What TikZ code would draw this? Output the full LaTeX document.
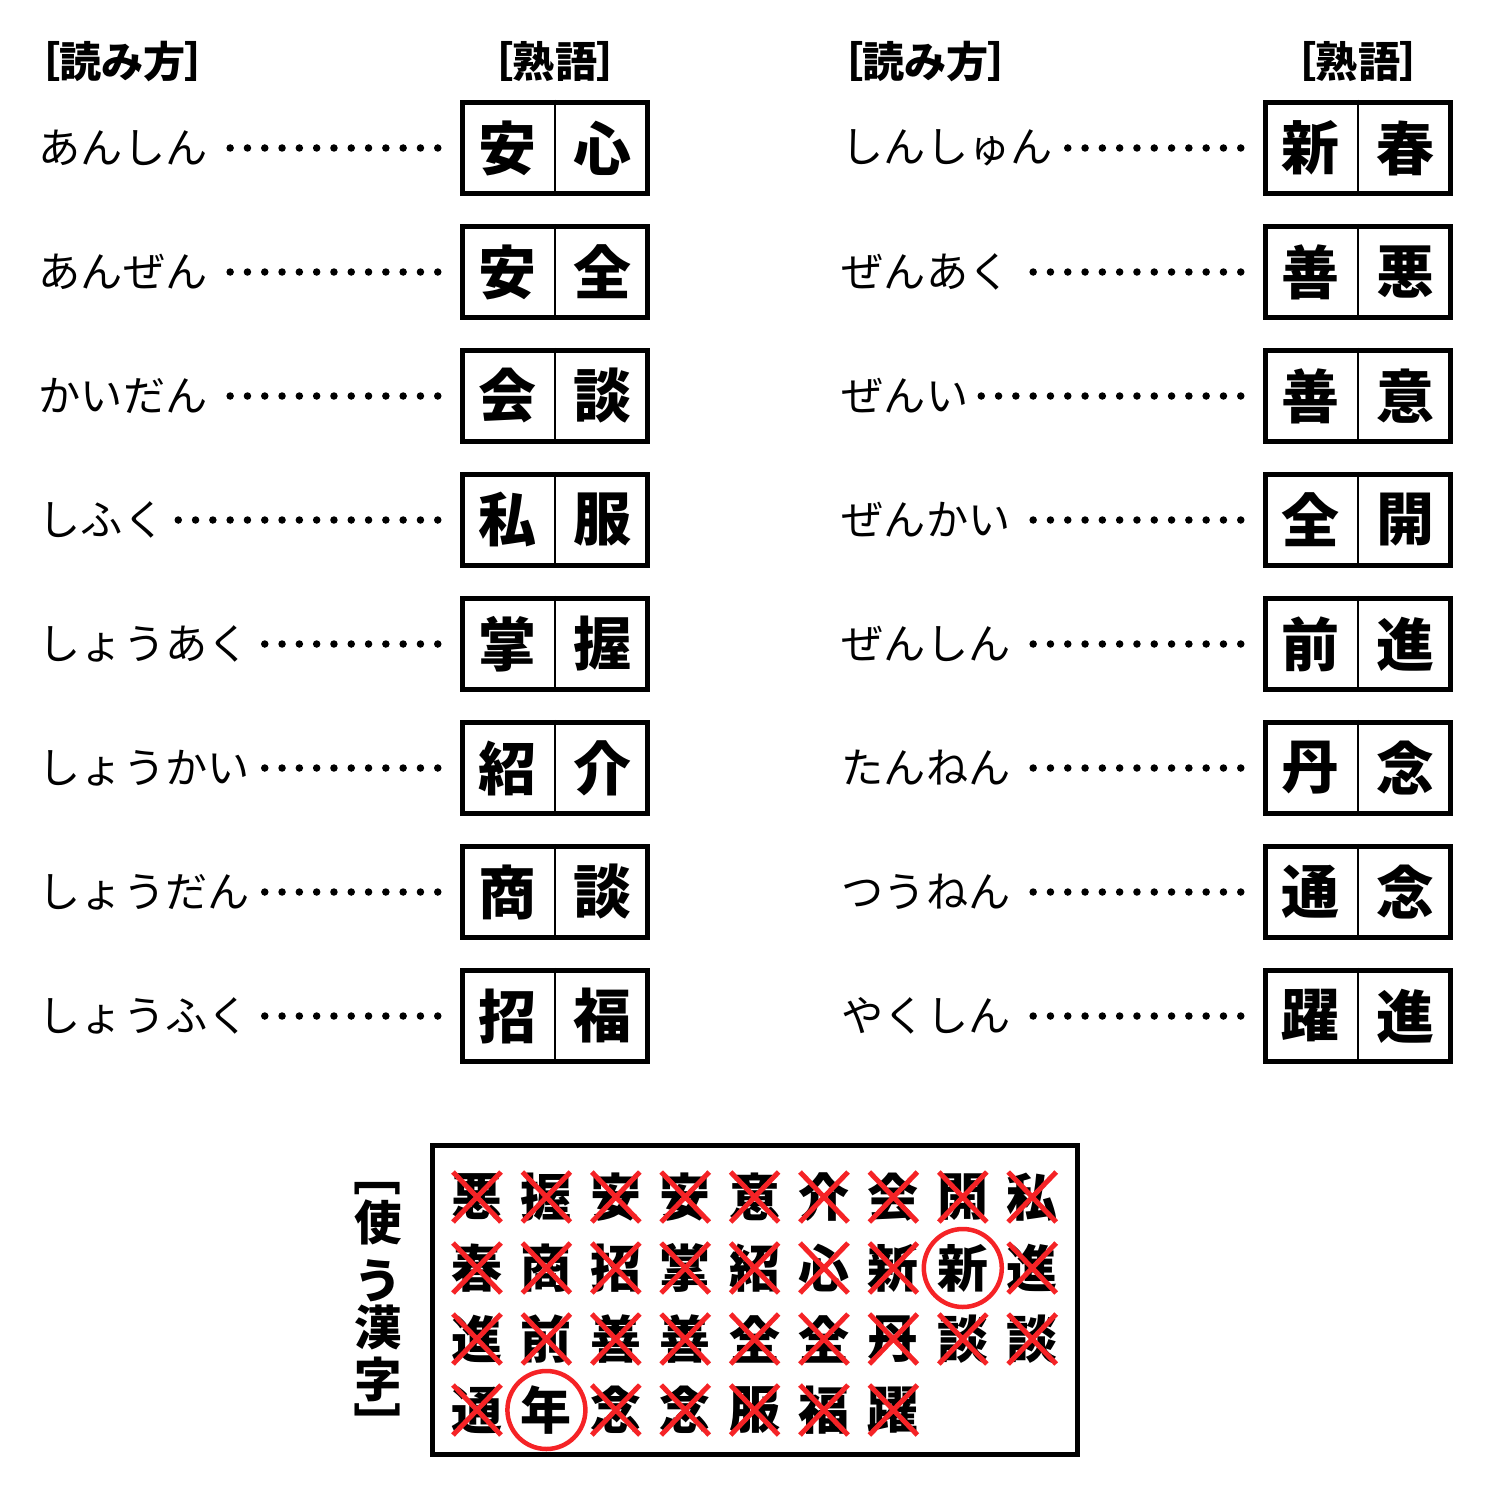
\documentclass[tikz,border=0pt]{standalone}
\usepackage{fontspec}
\newfontfamily\jp{Noto Sans CJK JP}
\newfontfamily\jpp[RawFeature=+palt]{Noto Sans CJK JP}
\definecolor{aka}{RGB}{245,35,38}
\tikzset{
  midashi/.style={font=\jpp\bfseries\fontsize{12}{12}\selectfont, inner sep=0},
  yomi/.style={anchor=west, font=\jp\fontsize{12}{12}\selectfont, inner sep=0},
  waku/.style={draw, line width=0.55mm, minimum width=18.5mm, minimum height=9.1mm, inner sep=0},
  ji/.style={font=\jp\bfseries\fontsize{16.5}{16.5}\selectfont, inner sep=0},
  kan/.style={font=\jp\bfseries\fontsize{14.5}{14.5}\selectfont, inner sep=0},
  ten/.style={line width=0.75mm, line cap=round, dash pattern=on 0pt off 1.73mm},
  tsukau/.style={font=\jpp\bfseries\fontsize{13.5}{13.5}\selectfont, inner sep=0},
  batsu/.style={draw=aka, line width=0.5mm},
  maru/.style={draw=aka, line width=0.45mm},
}
\begin{document}
\begin{tikzpicture}[x=0.1mm,y=-0.1mm]
\useasboundingbox (0,0) rectangle (1500,1500);

% midashi
\node[midashi, anchor=west] (h1) at (38,62) {［読み方］};
\node[midashi] (h2) at (555,62) {［熟語］};
\node[midashi, anchor=west] (h3) at (841,62) {［読み方］};
\node[midashi] (h4) at (1358,62) {［熟語］};

% hidari
\foreach \yomi/\a/\b [count=\i] in {あんしん/安/心,あんぜん/安/全,かいだん/会/談,しふく/私/服,しょうあく/掌/握,しょうかい/紹/介,しょうだん/商/談,しょうふく/招/福}{
  \node[yomi] (ly\i) at (38,24+124*\i) {\yomi};
  \node[waku] (lw\i) at (555,24+124*\i) {};
  \draw[line width=0.15mm] (lw\i.north) -- (lw\i.south);
  \node[ji] (la\i) at (507,24+124*\i) {\a};
  \node[ji] (lb\i) at (602,24+124*\i) {\b};
  \draw[ten] ([xshift=-2.2mm]lw\i.west) -- ([xshift=1mm]ly\i.east);
}

% migi
\foreach \yomi/\a/\b [count=\i] in {しんしゅん/新/春,ぜんあく/善/悪,ぜんい/善/意,ぜんかい/全/開,ぜんしん/前/進,たんねん/丹/念,つうねん/通/念,やくしん/躍/進}{
  \node[yomi] (ry\i) at (841,24+124*\i) {\yomi};
  \node[waku] (rw\i) at (1358,24+124*\i) {};
  \draw[line width=0.15mm] (rw\i.north) -- (rw\i.south);
  \node[ji] (ra\i) at (1310,24+124*\i) {\a};
  \node[ji] (rb\i) at (1405,24+124*\i) {\b};
  \draw[ten] ([xshift=-2.2mm]rw\i.west) -- ([xshift=1mm]ry\i.east);
}

% tsukau kanji
\node[tsukau, rotate=-90] (t0) at (378,1183) {［};
\foreach \t/\y [count=\i] in {使/1222,う/1281,漢/1327,字/1379}{
  \node[tsukau] (t\i) at (378,\y) {\t};
}
\node[tsukau, rotate=-90] (t5) at (378,1415) {］};

\node[draw, line width=0.55mm, minimum width=64.5mm, minimum height=30.9mm] (waku) at (755,1300) {};
\foreach \retsu [count=\r] in {{悪/x,握/x,安/x,安/x,意/x,介/x,会/x,開/x,私/x},{春/x,商/x,招/x,掌/x,紹/x,心/x,新/x,新/o,進/x},{進/x,前/x,善/x,善/x,全/x,全/x,丹/x,談/x,談/x},{通/x,年/o,念/x,念/x,服/x,福/x,躍/x}}{
  \foreach \k/\s [count=\c] in \retsu {
    \node[kan] (k\r-\c) at ({477+69.4*(\c-1)},{1197+71*(\r-1)}) {\k};
    \if\s o
      \draw[maru] (k\r-\c.center) circle[radius=3.9mm];
    \else
      \draw[batsu] ([shift={(-24,-25)}]k\r-\c.center) -- ([shift={(24,25)}]k\r-\c.center)
        ([shift={(24,-25)}]k\r-\c.center) -- ([shift={(-24,25)}]k\r-\c.center);
    \fi
  }
}
\end{tikzpicture}
\end{document}
